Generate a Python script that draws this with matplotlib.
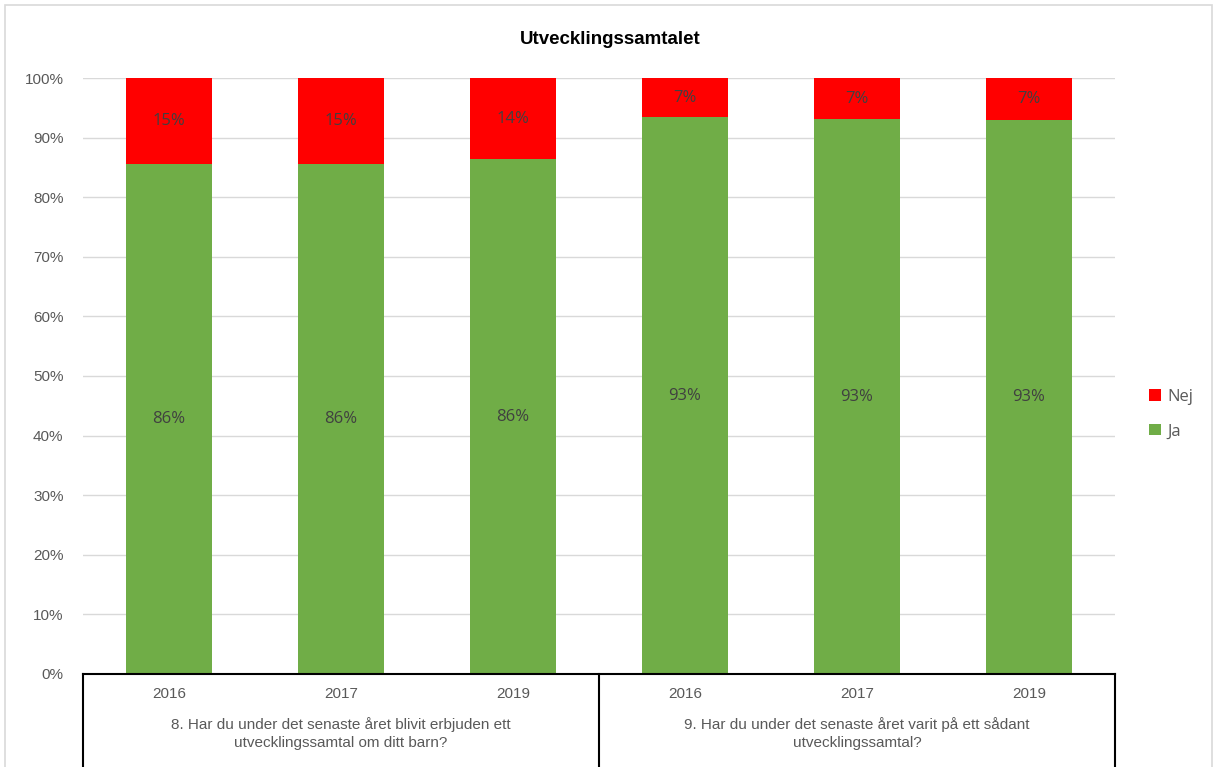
import matplotlib.pyplot as plt
from matplotlib.patches import Rectangle

# data (percent of respondents)
years = ['2016', '2017', '2019', '2016', '2017', '2019']
groups = ['8. Har du under det senaste året blivit erbjuden ett\nutvecklingssamtal om ditt barn?',
          '9. Har du under det senaste året varit på ett sådant\nutvecklingssamtal?']
ja = [85.5, 85.5, 86.4, 93.4, 93.1, 92.9]
nej = [14.5, 14.5, 13.6, 6.6, 6.9, 7.1]

GREEN = '#70ad47'
RED = '#ff0000'
GRAY = '#595959'
LABEL = '#404040'


def pct(v):
    # Excel style rounding, half goes up
    return f'{int(v + 0.5)}%'


def main():
    fig = plt.figure(figsize=(12.13, 7.67), dpi=100)
    ax = fig.add_axes([0.0684, 0.1213, 0.8508, 0.777])

    x = list(range(len(years)))
    ax.bar(x, ja, width=0.5, color=GREEN, label='Ja', zorder=3)
    ax.bar(x, nej, width=0.5, bottom=ja, color=RED, label='Nej', zorder=3)

    # data labels in the middle of each segment
    for i in x:
        ax.text(i, ja[i] / 2, pct(ja[i]), ha='center', va='center',
                fontsize=12, color=LABEL, family='Open Sans', zorder=4)
        ax.text(i, ja[i] + nej[i] / 2, pct(nej[i]), ha='center', va='center',
                fontsize=12, color=LABEL, family='Open Sans', zorder=4)

    ax.set_xlim(-0.5, len(years) - 0.5)
    ax.set_ylim(0, 100)
    ax.set_yticks(range(0, 101, 10))
    ax.set_yticklabels([f'{t}%' for t in range(0, 101, 10)])
    ax.tick_params(axis='y', length=0, pad=14, labelsize=11, labelcolor=GRAY)
    ax.tick_params(axis='x', length=0, bottom=False, labelbottom=False)
    for lab in ax.get_yticklabels():
        lab.set_family('Liberation Sans')
    ax.yaxis.grid(True, color='#d9d9d9', linewidth=1, zorder=0)
    for s in ['top', 'right', 'left']:
        ax.spines[s].set_visible(False)
    ax.spines['bottom'].set_color('black')
    ax.spines['bottom'].set_linewidth(1.5)
    ax.spines['bottom'].set_zorder(5)

    # multi level category axis below the plot
    trans = ax.get_xaxis_transform()
    for xv in [-0.5, 2.5, 5.5]:
        ax.plot([xv, xv], [0, -0.16], transform=trans, color='black',
                linewidth=1.5, clip_on=False)
    for i, y in enumerate(years):
        ax.text(i, -0.033, y, transform=trans, ha='center', va='center',
                fontsize=11, color=GRAY, family='Liberation Sans')
    for g, label in enumerate(groups):
        ax.text(1 + 3 * g, -0.1, label, transform=trans, ha='center', va='center',
                fontsize=11, color=GRAY, family='Liberation Sans', linespacing=1.35)

    fig.text(0.503, 0.948, 'Utvecklingssamtalet', ha='center', va='center',
             fontsize=13.5, fontweight='bold', family='Liberation Sans')

    handles, labels = ax.get_legend_handles_labels()
    leg = fig.legend(handles[::-1], labels[::-1], loc='center left',
                     bbox_to_anchor=(0.935, 0.46), frameon=False,
                     prop={'family': 'Open Sans', 'size': 12},
                     handlelength=0.7, handleheight=0.7, handletextpad=0.4,
                     labelspacing=1.1)
    for t in leg.get_texts():
        t.set_color(GRAY)

    # light chart border
    fig.patches.append(Rectangle((0.004, -0.01), 0.995, 1.003, transform=fig.transFigure,
                                 fill=False, edgecolor='#d9d9d9', linewidth=1.2))

    fig.savefig('out.png', dpi=100)


if __name__ == '__main__':
    main()
